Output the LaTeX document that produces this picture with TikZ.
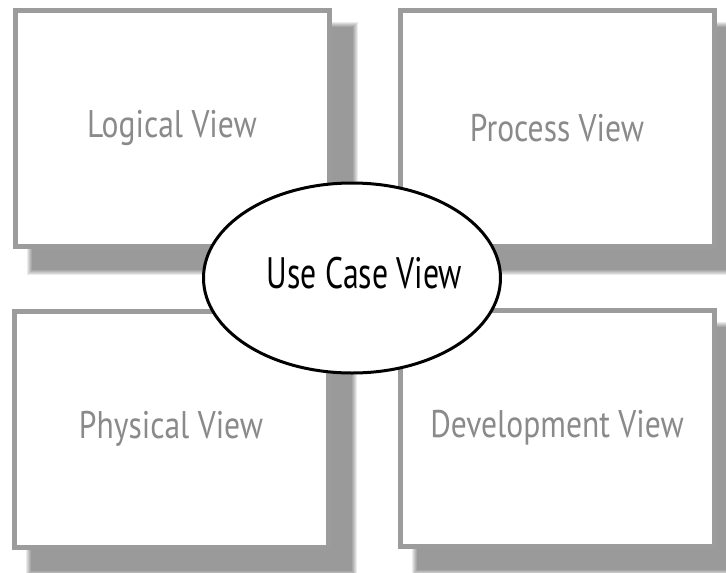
\documentclass[tikz,border=0pt]{standalone}
\usepackage{fontspec}
\setmainfont{PT Sans}
\usetikzlibrary{calc,shapes.geometric}
\definecolor{boxline}{HTML}{9C9C9C}
\definecolor{labelgray}{HTML}{8A8A8A}
\tikzset{
  viewbox/.style={draw=boxline, line width=5, fill=white, rectangle,
    minimum width=314, minimum height=236, inner sep=0, text=labelgray,
    font=\fontsize{38.5}{38.5}\selectfont},
  usecase/.style={draw=black, line width=3, fill=white, ellipse,
    minimum width=297, minimum height=190, inner sep=0},
  usecasetext/.style={inner sep=0, font=\fontsize{44}{44}\selectfont},
}
\newcommand{\grayview}[1]{\scalebox{0.82}[1]{#1}}
\newcommand{\blackview}[1]{\scalebox{0.72}[1]{#1}}
\newcommand{\softshadow}[1]{%
  \foreach \k in {0,...,5}{%
    \fill[black, opacity=0.08]
      ($(#1.north west)+(20-6+\k,20-6+\k)$) rectangle
      ($(#1.south east)+(20+6-\k,20+6-\k)$);
  }}
\begin{document}
\begin{tikzpicture}[x=1pt,y=-1pt]
  \useasboundingbox (0,0) rectangle (726,573);
  \fill[white] (0,0) rectangle (726,573);
  \coordinate (pTL) at (172,128);
  \coordinate (pTR) at (557,128);
  \coordinate (pBL) at (171,429);
  \coordinate (pBR) at (557,428);
  % shadow frames
  \path (pTL) node[viewbox, draw=none, fill=none] (sTL) {};
  \path (pTR) node[viewbox, draw=none, fill=none] (sTR) {};
  \path (pBL) node[viewbox, draw=none, fill=none] (sBL) {};
  \path (pBR) node[viewbox, draw=none, fill=none] (sBR) {};
  \softshadow{sTL}
  \softshadow{sTR}
  \softshadow{sBL}
  \softshadow{sBR}
  % boxes
  \node[viewbox] (logical) at (pTL) {\grayview{Logical View}};
  \node[viewbox] (process) at (pTR) {\grayview{Process View}};
  \node[viewbox] (physical) at (pBL) {\grayview{Physical View}};
  \node[viewbox] (development) at (pBR) {\grayview{Development View}};
  % central ellipse
  \node[usecase] (usecase) at (352,278) {};
  \node[usecasetext, anchor=base] (usecaselabel) at (364.5,288) {\blackview{Use Case View}};
\end{tikzpicture}
\end{document}
